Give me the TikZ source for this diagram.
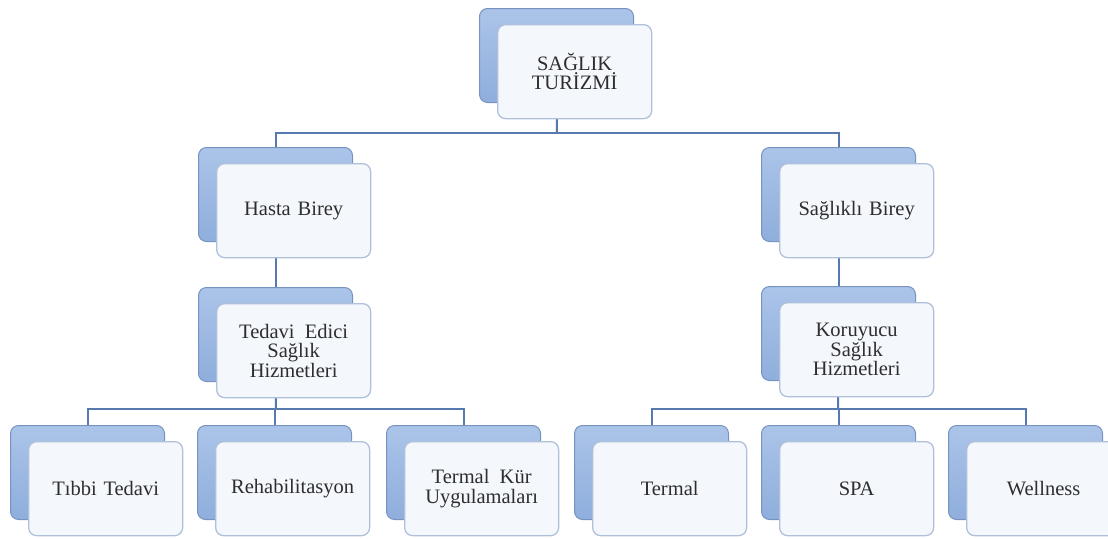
\documentclass[tikz,border=0pt]{standalone}
\usepackage{fontspec}
\setmainfont{Liberation Serif}
\usetikzlibrary{backgrounds}
\definecolor{backfillA}{HTML}{ABC4E9}
\definecolor{backfillB}{HTML}{8FAEDC}
\definecolor{backdraw}{HTML}{7893C0}
\definecolor{frontfill}{HTML}{F4F7FC}
\definecolor{frontdraw}{HTML}{AFC0DA}
\definecolor{linkcol}{HTML}{5679B0}
\definecolor{txtcol}{HTML}{2E2E2E}
\begin{document}
\begin{tikzpicture}[x=1pt,y=-1pt,
  backbox/.style={draw=backdraw, line width=1pt, top color=backfillA, bottom color=backfillB,
    rounded corners=8pt, minimum width=154pt, minimum height=94pt, anchor=north west, inner sep=0pt},
  frontbox/.style={draw=frontdraw, line width=1.3pt, fill=frontfill, rounded corners=8pt,
    minimum width=154pt, minimum height=94pt, anchor=north west, inner sep=2pt,
    text width=146pt, align=center, text=txtcol, font=\fontsize{20.5}{19.5}\selectfont},
  link/.style={draw=linkcol, line width=2pt}]
\useasboundingbox (0,0) rectangle (1108,538);
\clip (0,0) rectangle (1108,538);
% boxes
\node[backbox] (topB) at (479,8) {};
\node[frontbox] (topF) at (497,24) {SAĞLIK\\TURİZMİ};
\node[backbox] (hasB) at (198,147) {};
\node[frontbox] (hasF) at (216,163) {Hasta Birey};
\node[backbox] (sagB) at (761,147) {};
\node[frontbox] (sagF) at (779,163) {Sağlıklı Birey};
\node[backbox] (tedB) at (198,287) {};
\node[frontbox] (tedF) at (216,303) {Tedavi\, Edici\\Sağlık\\Hizmetleri};
\node[backbox] (korB) at (761,286) {};
\node[frontbox] (korF) at (779,302) {Koruyucu\\Sağlık\\Hizmetleri};
\node[backbox] (tibB) at (10,425) {};
\node[frontbox] (tibF) at (28,441) {Tıbbi Tedavi};
\node[backbox] (rehB) at (197,425) {};
\node[frontbox] (rehF) at (215,441) {Rehabilitasyon};
\node[backbox] (kurB) at (386,425) {};
\node[frontbox] (kurF) at (404,441) {Termal\, Kür\\Uygulamaları};
\node[backbox] (terB) at (574,425) {};
\node[frontbox] (terF) at (592,441) {Termal};
\node[backbox] (spaB) at (761,425) {};
\node[frontbox] (spaF) at (779,441) {SPA};
\node[backbox] (welB) at (948,425) {};
\node[frontbox] (welF) at (966,441) {Wellness};
% connectors
\coordinate (bus1) at (557,133);
\coordinate (bus2) at (276,409);
\coordinate (bus3) at (838,409);
\begin{scope}[on background layer]
\draw[link] (topB.center) -- (bus1);
\draw[link] (hasB.north) |- (bus1) -| (sagB.north);
\draw[link] (hasB.center) -- (tedB.north);
\draw[link] (sagB.center) -- (korB.north);
\draw[link] (tedB.center) -- (bus2);
\draw[link] (tibB.north) |- (bus2) -| (kurB.north);
\draw[link] (rehB.north) -- (rehB.north |- bus2);
\draw[link] (korB.center) -- (bus3);
\draw[link] (terB.north) |- (bus3) -| (welB.north);
\draw[link] (spaB.north) -- (spaB.north |- bus3);
\end{scope}
\end{tikzpicture}
\end{document}
